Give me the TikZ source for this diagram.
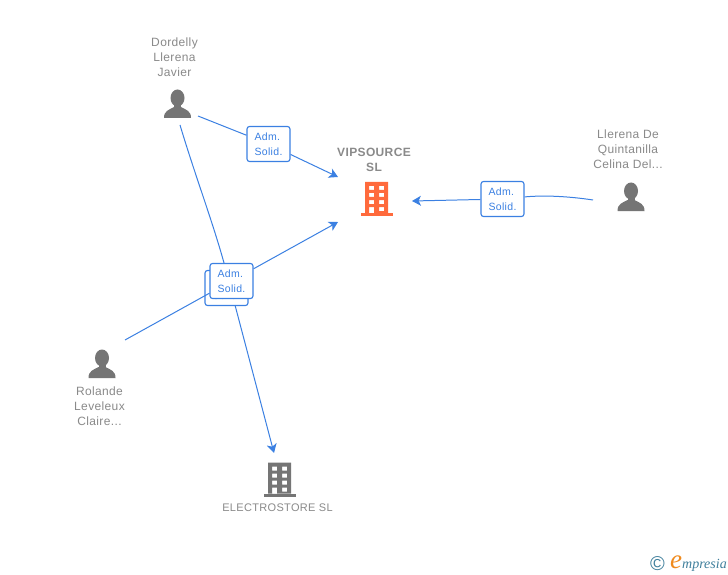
\documentclass[tikz,border=0pt]{standalone}
\usepackage{fontspec}
\setmainfont{Liberation Sans}
\newfontfamily\labfont[LetterSpace=3]{Liberation Sans}
\newfontfamily\logofont{Liberation Serif}
\usetikzlibrary{arrows.meta,backgrounds}
\definecolor{linkblue}{HTML}{3B80E2}
\definecolor{labgray}{HTML}{8A8A8A}
\definecolor{icongray}{HTML}{757575}
\definecolor{vipred}{HTML}{FF6A3C}
\definecolor{logoteal}{HTML}{3F7F9C}
\definecolor{logoorange}{HTML}{F08A1D}
\tikzset{
  link/.style={draw=linkblue,line width=1pt},
  arrowlink/.style={link,-{Stealth[length=9bp,width=10bp,inset=2.5bp]}},
  badge/.style={draw=linkblue,line width=1.1pt,fill=white,rounded corners=2.5bp,minimum width=43bp,minimum height=35bp,inner sep=0pt,text=linkblue,align=left,font=\labfont\fontsize{10.5bp}{15bp}\selectfont},
  lab/.style={text=labgray,align=center,inner sep=0pt,font=\labfont\fontsize{12bp}{15bp}\selectfont},
  boldlab/.style={text=labgray,align=center,inner sep=0pt,font=\labfont\bfseries\fontsize{12bp}{15bp}\selectfont},
  smalllab/.style={text=labgray,align=center,inner sep=0pt,font=\labfont\fontsize{11bp}{15bp}\selectfont},
  person/.pic={
    \fill[icongray] (0,-6) ellipse (7 and 8.5);
    \fill[icongray] (-3.5,-2) rectangle (3.5,5);
    \fill[icongray] (-13.5,14) .. controls (-13.5,7) and (-9,6) .. (-3.5,3) -- (3.5,3) .. controls (9,6) and (13.5,7) .. (13.5,14) -- cycle;
  },
  building/.pic={
    \fill[even odd rule,pic actions]
      (-11.5,-17) rectangle (11.5,14)
      (-7.5,-13) rectangle (-2.5,-9) (2.5,-13) rectangle (7.5,-9)
      (-7.5,-6) rectangle (-2.5,-2) (2.5,-6) rectangle (7.5,-2)
      (-7.5,1) rectangle (-2.5,5) (2.5,1) rectangle (7.5,5)
      (-7.5,8) rectangle (-2.5,14) (2.5,8) rectangle (7.5,12);
    \fill[pic actions] (-16,14) rectangle (16,17);
  }
}
\begin{document}
\begin{tikzpicture}[x=1bp,y=-1bp]
\useasboundingbox (0,0) rectangle (728,575);
% free ends
\coordinate (dordA) at (198,116);
\coordinate (dordB) at (180,125);
\coordinate (llerA) at (593,200);
\coordinate (rolA) at (125,340);
\coordinate (vipA) at (338,177);
\coordinate (vipB) at (338,222);
\coordinate (vipC) at (412,201);
\coordinate (elecA) at (274,453);
\coordinate (hub) at (230.5,288);
% badges
\node[badge] (bdord) at (268.5,144) {Adm.\\Solid.};
\node[badge] (bller) at (502.5,199) {Adm.\\Solid.};
\node[badge] (brol) at (231.5,281) {Adm.\\Solid.};
% connectors, beneath the badges
\begin{scope}[on background layer]
\fill[white] (0,0) rectangle (728,575);
\draw[link] (dordA) -- (bdord);
\draw[arrowlink] (bdord) -- (vipA);
\draw[link] (llerA) .. controls (570,196.5) and (545,195) .. (bller);
\draw[arrowlink] (bller) -- (vipC);
\draw[link] (dordB) .. controls (198,185) and (218,235) .. (hub);
\draw[arrowlink] (hub) -- (elecA);
\node[badge] (brolB) at (226.5,288) {Adm.\\Solid.};
\draw[link] (rolA) -- (brol);
\draw[arrowlink] (brol) -- (vipB);
\end{scope}
% texts
\node[lab] (tdord) at (174.5,57) {Dordelly\\Llerena\\Javier};
\node[lab] (tller) at (628,149) {Llerena De\\Quintanilla\\Celina Del...};
\node[lab] (trol) at (99.5,406) {Rolande\\Leveleux\\Claire...};
\node[boldlab] (tvip) at (374,159.5) {VIPSOURCE\\SL};
\node[smalllab] (telec) at (277.5,508) {ELECTROSTORE SL};
% icons
\pic at (177.5,104) {person};
\pic at (631,197) {person};
\pic at (102,364) {person};
\pic[fill=vipred] at (376.5,199) {building};
\pic[fill=icongray] at (279.5,479.5) {building};
% logo
\node[inner sep=0pt,text=logoteal,font=\fontsize{20bp}{20bp}\selectfont] (copyr) at (657.5,564) {©};
\node[inner sep=0pt,text=logoorange,font=\logofont\itshape\fontsize{27bp}{27bp}\selectfont] (loge) at (676,562) {e};
\node[inner sep=0pt,anchor=west,text=logoteal,font=\logofont\itshape\fontsize{14bp}{14bp}\selectfont] (logt) at (682,565) {mpresia};
\end{tikzpicture}
\end{document}
